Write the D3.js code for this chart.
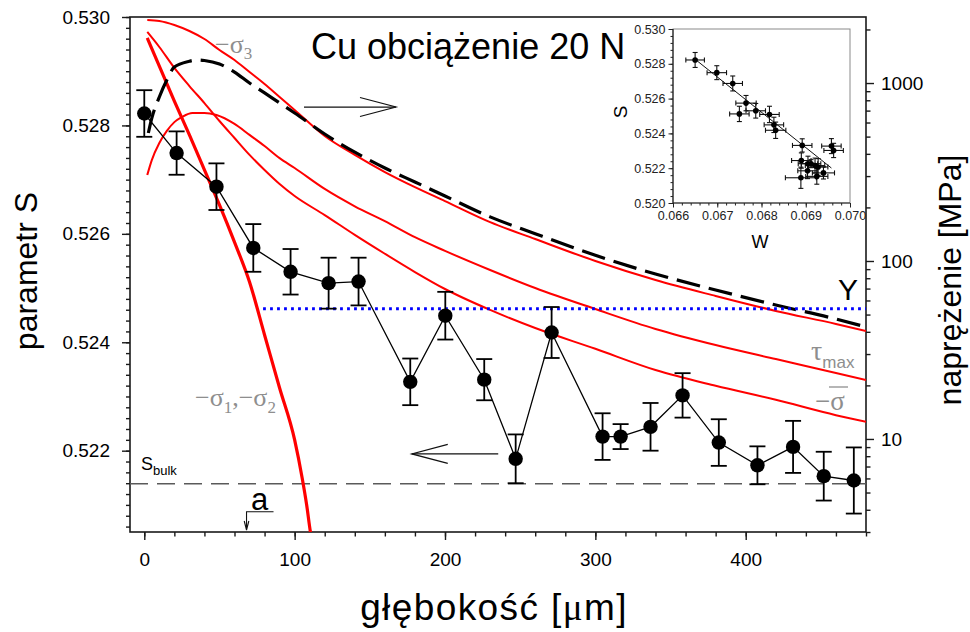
<!DOCTYPE html>
<html>
<head>
<meta charset="utf-8">
<script src="https://cdn.jsdelivr.net/npm/d3@7"></script>
<style>
  html, body { margin: 0; padding: 0; background: #fff; }
  svg { display: block; }
  text { font-family: "Liberation Sans", Arial, Helvetica, sans-serif; }
</style>
</head>
<body>
<svg id="chart" width="970" height="632"></svg>
<script>
// ---- S parameter measured against depth (Cu, 20 N load) ----
const depthUm = [0, 21.5, 48, 72.5, 97.3, 122.6, 142.5, 176.9, 200.2, 226.1, 247,
                 270.9, 304.8, 316.8, 336.7, 358, 382.1, 407.8, 431.5, 451.9, 471.9];
const sParam  = [0.52822, 0.52749, 0.52687, 0.52574, 0.52530, 0.52509, 0.52512, 0.52327,
                 0.52449, 0.52331, 0.52185, 0.52418, 0.52226, 0.52226, 0.52244, 0.52302,
                 0.52215, 0.52173, 0.52207, 0.52153, 0.52145];
const sErr    = [0.00043, 0.00040, 0.00043, 0.00044, 0.00042, 0.00047, 0.00044, 0.00043,
                 0.00044, 0.00038, 0.00045, 0.00047, 0.00043, 0.00023, 0.00044, 0.00041,
                 0.00043, 0.00035, 0.00048, 0.00045, 0.00061];
// W parameter of the same spectra (inset)
const wParam  = [0.06650, 0.06699, 0.06735, 0.06765, 0.06787, 0.06818, 0.06750, 0.06958,
                 0.06828, 0.06892, 0.06904, 0.06832, 0.06905, 0.06912, 0.06890, 0.06963,
                 0.06921, 0.06940, 0.06928, 0.06925, 0.06889];
const wErr    = [0.00021, 0.00022, 0.00022, 0.00023, 0.00022, 0.00022, 0.00022, 0.00022,
                 0.00022, 0.00022, 0.00022, 0.00023, 0.00022, 0.00022, 0.00022, 0.00022,
                 0.00022, 0.00025, 0.00022, 0.00025, 0.00035];

// reference levels
const sBulk = 0.52139;          // S of the undeformed bulk
const yieldStress = 53.9;       // MPa
const yieldFromDepth = 79;      // µm
const contactRadius = 68;       // µm, "a"

// stress profiles along the load axis: [depth µm, stress MPa]
const sigma3 = [[2,2261],[10,2232],[20,2120],[30,1961],[40,1768],[50,1534],[60,1347],[70,1153],
  [80,988],[90,835],[100,706],[120,504],[140,394.5],[160,316],[180,260],[200,217],[230,165.4],
  [260,132.9],[300,100.0],[340,78.2],[380,63.6],[420,52.4],[460,44.3],[480,40.4]];
const sigmaEq = [[2.7,524],[5,635],[10,835],[15,1040],[20,1230],[30,1326],[35,1348],[40,1339],
  [50,1279],[60,1153],[70,1000],[80,880],[90,772],[100,679],[120,517],[140,409],[160,333],
  [180,278],[200,232],[230,177],[260,142.3],[300,107.7],[340,84.5],[380,68.7],[420,56.6],[460,47.2],[480,42.6]];
const tauMax = [[2,304.5],[5,369],[10,460],[15,538],[20,603],[25,644],[32,679],[40,679],[48,661],
  [60,589],[70,511],[80,443],[90,378.5],[100,333],[120,254],[140,203],[160,167.5],[180,136],
  [200,114],[230,89.0],[260,70.5],[300,53.7],[340,41.5],[380,33.7],[420,28.1],[460,23.5],[480,21.4]];
const sigmaMean = [[2,1936],[10,1594],[20,1216],[30,962],[40,772],[50,612],[60,491],[70,394.5],
  [80,324.6],[90,270.7],[100,231.7],[120,181.2],[140,140.2],[160,109.8],[180,86.7],[200,69.6],[230,53.1],
  [260,42.0],[300,32.1],[340,24.4],[380,19.9],[420,16.6],[460,13.6],[480,12.5]];
const sigma12 = [[2,1791],[10,1246],[20,792],[30,511],[40,324.6],[50,206.5],[60,127.6],[70,76.2],
  [80,38.4],[90,19.33],[100,9.88],[105,6.04],[108,4.26],[110.5,3.0],[113,2.4]];

// linear fit S(W) in the inset
const fitW = [0.0665, 0.06958];
const fitS = [0.52826, 0.52201];

// tick values
const sTicks = [0.522, 0.524, 0.526, 0.528, 0.530];
const depthTicks = [0, 100, 200, 300, 400];
const stressTicks = [10, 100, 1000];
const insetWTicks = [0.066, 0.067, 0.068, 0.069, 0.070];
const insetSTicks = [0.520, 0.522, 0.524, 0.526, 0.528, 0.530];

// ---------------------------------------------------------------
const svg = d3.select("#chart");
const P = { left: 130, right: 866, top: 17, bottom: 532 };
const AX = "#1a1a1a", GREY = "#8e8e8e", RED = "#ff0000";

const x  = d3.scaleLinear().domain([-9.5, 480]).range([P.left, P.right]);
const yS = d3.scaleLinear().domain([0.5205, 0.530]).range([P.bottom, P.top]);
const yP = d3.scaleLog().domain([3, 2350]).range([P.bottom, P.top]);

svg.append("defs").append("clipPath").attr("id", "plotClip")
  .append("rect").attr("x", P.left).attr("y", P.top)
  .attr("width", P.right - P.left).attr("height", P.bottom - P.top);

function tidy(g, size) {
  g.select(".domain").remove();
  g.attr("font-family", null).attr("font-size", size);
  g.selectAll("line").attr("stroke", AX).attr("stroke-width", 1.4);
  g.selectAll("text").attr("fill", "#000");
}

// ---- main axes ----
const sMinor = d3.range(2603, 2651).map(i => i * 0.0002);
svg.append("g").attr("transform", `translate(${P.left},0)`)
  .call(d3.axisLeft(yS).tickValues(sMinor).tickSize(4).tickFormat(""))
  .call(g => tidy(g, 19));
svg.append("g").attr("transform", `translate(${P.left},0)`)
  .call(d3.axisLeft(yS).tickValues(sTicks).tickSize(8).tickPadding(12).tickFormat(d3.format(".3f")))
  .call(g => tidy(g, 19));

svg.append("g").attr("transform", `translate(0,${P.bottom})`)
  .call(d3.axisBottom(x).tickValues(d3.range(0, 481, 20)).tickSize(4.5).tickFormat(""))
  .call(g => tidy(g, 19));
svg.append("g").attr("transform", `translate(0,${P.bottom})`)
  .call(d3.axisBottom(x).tickValues(depthTicks).tickSize(8).tickPadding(13).tickFormat(d3.format("d")))
  .call(g => tidy(g, 19));

const pMinor = [3,4,5,6,7,8,9,20,30,40,50,60,70,80,90,200,300,400,500,600,700,800,900,2000];
svg.append("g").attr("transform", `translate(${P.right},0)`)
  .call(d3.axisRight(yP).tickValues(pMinor).tickSize(4.5).tickFormat(""))
  .call(g => tidy(g, 19));
svg.append("g").attr("transform", `translate(${P.right},0)`)
  .call(d3.axisRight(yP).tickValues(stressTicks).tickSize(8).tickPadding(7).tickFormat(d3.format("d")))
  .call(g => tidy(g, 19));

svg.append("rect").attr("x", P.left).attr("y", P.top)
  .attr("width", P.right - P.left).attr("height", P.bottom - P.top)
  .attr("fill", "none").attr("stroke", AX).attr("stroke-width", 1.6);

// ---- reference lines ----
const plotArea = svg.append("g").attr("clip-path", "url(#plotClip)");

plotArea.append("line")
  .attr("x1", P.left).attr("x2", P.right)
  .attr("y1", yS(sBulk)).attr("y2", yS(sBulk))
  .attr("stroke", "#5a5a5a").attr("stroke-width", 1.4).attr("stroke-dasharray", "18,9");

// ---- stress curves ----
const stressLine = d3.line().x(d => x(d[0])).y(d => yP(d[1])).curve(d3.curveMonotoneX);
[sigma3, tauMax, sigmaMean].forEach(c => {
  plotArea.append("path").datum(c).attr("d", stressLine)
    .attr("fill", "none").attr("stroke", RED).attr("stroke-width", 2);
});
plotArea.append("path").datum(sigma12).attr("d", stressLine)
  .attr("fill", "none").attr("stroke", RED).attr("stroke-width", 3.2);
plotArea.append("path").datum(sigmaEq).attr("d", stressLine)
  .attr("fill", "none").attr("stroke", "#000").attr("stroke-width", 3.2)
  .attr("stroke-dasharray", "24,9");

plotArea.append("line")
  .attr("x1", x(yieldFromDepth)).attr("x2", P.right)
  .attr("y1", yP(yieldStress)).attr("y2", yP(yieldStress))
  .attr("stroke", "#0000ff").attr("stroke-width", 2.8).attr("stroke-dasharray", "2.8,4.2");

// ---- measured S points ----
const pts = depthUm.map((d, i) => ({ d, s: sParam[i], e: sErr[i] }));
svg.append("path").datum(pts)
  .attr("d", d3.line().x(p => x(p.d)).y(p => yS(p.s)))
  .attr("fill", "none").attr("stroke", "#000").attr("stroke-width", 1.3);
const eb = svg.append("g").attr("stroke", "#000").attr("stroke-width", 1.8);
pts.forEach(p => {
  const cx = x(p.d), t = yS(p.s + p.e), b = yS(p.s - p.e);
  eb.append("line").attr("x1", cx).attr("x2", cx).attr("y1", t).attr("y2", b);
  eb.append("line").attr("x1", cx - 8).attr("x2", cx + 8).attr("y1", t).attr("y2", t);
  eb.append("line").attr("x1", cx - 8).attr("x2", cx + 8).attr("y1", b).attr("y2", b);
});
svg.append("g").selectAll("circle").data(pts).join("circle")
  .attr("cx", p => x(p.d)).attr("cy", p => yS(p.s)).attr("r", 7.2).attr("fill", "#000");

// ---- arrows pointing to the relevant axis ----
function arrow(x1, x2, y, dir) {
  const g = svg.append("g").attr("stroke", "#111").attr("stroke-width", 1.2).attr("fill", "none");
  g.append("line").attr("x1", x1).attr("x2", x2).attr("y1", y).attr("y2", y);
  const tip = dir > 0 ? x2 : x1;
  g.append("path").attr("d", `M${tip - dir * 36},${y - 9.5}L${tip},${y}L${tip - dir * 36},${y + 9.5}`);
}
arrow(x(106.2), x(167.4), yP(733), 1);
arrow(x(177.9), x(235.4), yS(0.52194), -1);

// contact radius marker
const ax0 = x(contactRadius), ay = P.bottom - 20.3;
svg.append("path")
  .attr("d", `M${ax0 + 27},${ay}H${ax0}V${P.bottom - 2}M${ax0 - 2.3},${P.bottom - 11}L${ax0},${P.bottom - 2}L${ax0 + 2.3},${P.bottom - 11}`)
  .attr("fill", "none").attr("stroke", "#111").attr("stroke-width", 1.1);
svg.append("text").attr("x", ax0 + 4.5).attr("y", ay - 2).attr("font-size", 31).text("a");

// ---- text labels ----
svg.append("text").attr("x", 311).attr("y", 59).attr("font-size", 36).text("Cu obciążenie 20 N");

svg.append("text").attr("transform", "translate(37,271) rotate(-90)")
  .attr("text-anchor", "middle").attr("font-size", 32).text("parametr S");
svg.append("text").attr("transform", "translate(961,280) rotate(-90)")
  .attr("text-anchor", "middle").attr("font-size", 32).text("naprężenie [MPa]");
const xt = svg.append("text").attr("x", 494).attr("y", 620).attr("text-anchor", "middle")
  .attr("font-size", 37).attr("letter-spacing", 1.4);
xt.append("tspan").text("głębokość [");
xt.append("tspan").attr("font-family", "'Liberation Serif', 'Times New Roman', serif").text("μ");
xt.append("tspan").text("m]");

const serif = "'Liberation Serif', 'Times New Roman', serif";
function greek(xp, yp, parts) {
  const t = svg.append("text").attr("x", xp).attr("y", yp).attr("fill", GREY);
  parts.forEach(([txt, size, dy, fam]) => {
    t.append("tspan").attr("font-size", size).attr("dy", dy)
      .attr("font-family", fam || serif).text(txt);
  });
  return t;
}
greek(215, 53, [["−σ", 26, 0], ["3", 17, 6]]);
greek(195, 406, [["−σ", 26, 0], ["1", 17, 7], [",", 26, -7], ["−σ", 26, 0], ["2", 17, 7]]);
greek(811, 360, [["τ", 28, 0], ["max", 17, 8, "'Liberation Sans', Arial, sans-serif"]]);
greek(815, 410, [["−σ", 27, 0]]);
svg.append("line").attr("x1", 829).attr("x2", 848).attr("y1", 387).attr("y2", 387)
  .attr("stroke", GREY).attr("stroke-width", 1.3);

svg.append("text").attr("x", 838).attr("y", 300).attr("font-size", 30).text("Y");

const sb = svg.append("text").attr("x", 141).attr("y", 470);
sb.append("tspan").attr("font-size", 18).text("S");
sb.append("tspan").attr("font-size", 13).attr("dy", 5).text("bulk");

// ---- inset: S against W ----
const I = { left: 673, right: 850, top: 29, bottom: 203 };
const xi = d3.scaleLinear().domain([0.066, 0.070]).range([I.left, I.right]);
const yi = d3.scaleLinear().domain([0.520, 0.530]).range([I.bottom, I.top]);

svg.append("rect").attr("x", I.left).attr("y", I.top)
  .attr("width", I.right - I.left).attr("height", I.bottom - I.top)
  .attr("fill", "#fff").attr("stroke", "#8a8a8a").attr("stroke-width", 1);

function tidyI(g) {
  g.select(".domain").remove();
  g.attr("font-family", null).attr("font-size", 12.5);
  g.selectAll("line").attr("stroke", "#222").attr("stroke-width", 1);
  g.selectAll("text").attr("fill", "#222");
}
svg.append("g").attr("transform", `translate(${I.left},0)`)
  .call(d3.axisLeft(yi).tickValues(d3.range(1300, 1326).map(i => i * 0.0004)).tickSize(2.5).tickFormat(""))
  .call(tidyI);
svg.append("g").attr("transform", `translate(${I.left},0)`)
  .call(d3.axisLeft(yi).tickValues(insetSTicks).tickSize(4.5).tickPadding(3).tickFormat(d3.format(".3f")))
  .call(tidyI);
svg.append("g").attr("transform", `translate(0,${I.bottom})`)
  .call(d3.axisBottom(xi).tickValues(d3.range(330, 351).map(i => i * 0.0002)).tickSize(2.5).tickFormat(""))
  .call(tidyI);
svg.append("g").attr("transform", `translate(0,${I.bottom})`)
  .call(d3.axisBottom(xi).tickValues(insetWTicks).tickSize(4.5).tickPadding(4).tickFormat(d3.format(".3f")))
  .call(tidyI);
svg.append("line").attr("x1", I.left).attr("x2", I.left).attr("y1", I.top).attr("y2", I.bottom)
  .attr("stroke", "#222").attr("stroke-width", 1.2);
svg.append("line").attr("x1", I.left).attr("x2", I.right).attr("y1", I.bottom).attr("y2", I.bottom)
  .attr("stroke", "#222").attr("stroke-width", 1.2);

svg.append("line")
  .attr("x1", xi(fitW[0])).attr("y1", yi(fitS[0]))
  .attr("x2", xi(fitW[1])).attr("y2", yi(fitS[1]))
  .attr("stroke", "#111").attr("stroke-width", 1);

const ipts = wParam.map((w, i) => ({ w, s: sParam[i], ew: wErr[i], es: sErr[i] }));
const ieb = svg.append("g").attr("stroke", "#111").attr("stroke-width", 1.1);
ipts.forEach(p => {
  const cx = xi(p.w), cy = yi(p.s);
  const l = xi(p.w - p.ew), r = xi(p.w + p.ew), t = yi(p.s + p.es), b = yi(p.s - p.es);
  ieb.append("line").attr("x1", l).attr("x2", r).attr("y1", cy).attr("y2", cy);
  ieb.append("line").attr("x1", cx).attr("x2", cx).attr("y1", t).attr("y2", b);
  ieb.append("line").attr("x1", l).attr("x2", l).attr("y1", cy - 2.5).attr("y2", cy + 2.5);
  ieb.append("line").attr("x1", r).attr("x2", r).attr("y1", cy - 2.5).attr("y2", cy + 2.5);
  ieb.append("line").attr("x1", cx - 2.5).attr("x2", cx + 2.5).attr("y1", t).attr("y2", t);
  ieb.append("line").attr("x1", cx - 2.5).attr("x2", cx + 2.5).attr("y1", b).attr("y2", b);
});
svg.append("g").selectAll("circle").data(ipts).join("circle")
  .attr("cx", p => xi(p.w)).attr("cy", p => yi(p.s)).attr("r", 2.8).attr("fill", "#000");

svg.append("text").attr("transform", "translate(627,112) rotate(-90)")
  .attr("text-anchor", "middle").attr("font-size", 19).text("S");
svg.append("text").attr("x", 760).attr("y", 248).attr("text-anchor", "middle")
  .attr("font-size", 18).text("W");
</script>
</body>
</html>
